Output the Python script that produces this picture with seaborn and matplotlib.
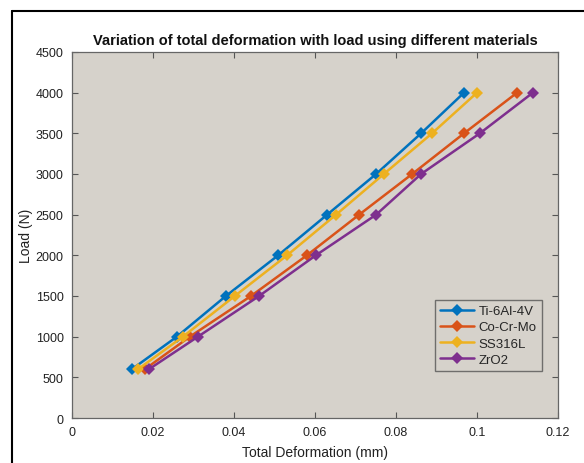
import pandas as pd
import matplotlib
matplotlib.use("Agg")
import matplotlib.pyplot as plt
from matplotlib.lines import Line2D
import seaborn as sns

# datos
cargas = [600, 1000, 1500, 2000, 2500, 3000, 3500, 4000]
materiales = ["Ti-6Al-4V", "Co-Cr-Mo", "SS316L", "ZrO2"]
def_ti = [0.0148, 0.0259, 0.0380, 0.0509, 0.0630, 0.0751, 0.0862, 0.0968]
def_cocr = [0.0180, 0.0291, 0.0442, 0.0580, 0.0709, 0.0840, 0.0968, 0.1099]
def_ss = [0.0163, 0.0274, 0.0402, 0.0531, 0.0652, 0.0770, 0.0889, 0.1000]
def_zr = [0.0190, 0.0311, 0.0462, 0.0602, 0.0751, 0.0862, 0.1007, 0.1138]
colores = ["#0072BD", "#D95319", "#EDB120", "#7E2F8E"]

filas = []
for mat, defs in zip(materiales, [def_ti, def_cocr, def_ss, def_zr]):
    for c, d in zip(cargas, defs):
        filas.append({"Material": mat, "Deformacion": d, "Carga": c})
df = pd.DataFrame(filas)

sns.set_style("ticks")
plt.rcParams["font.family"] = ["Liberation Sans", "DejaVu Sans"]

fig = plt.figure(figsize=(5.84, 4.64), dpi=100)
ax = fig.add_axes([72 / 584, 1 - 419 / 464, (558 - 72) / 584, (419 - 53) / 464])
ax.set_facecolor("#d6d2cb")

sns.lineplot(data=df, x="Deformacion", y="Carga", hue="Material", hue_order=materiales,
             palette=colores, marker="D", markersize=6.5, markeredgewidth=0,
             linewidth=1.8, sort=False, ax=ax)

ax.set_xlim(0, 0.12)
ax.set_ylim(0, 4500)
ax.set_xticks([0, 0.02, 0.04, 0.06, 0.08, 0.1, 0.12])
ax.set_xticklabels(["0", "0.02", "0.04", "0.06", "0.08", "0.1", "0.12"])
ax.set_yticks(range(0, 4501, 500))
ax.tick_params(direction="in", length=4, width=0.8, color="#555555",
               labelsize=9, labelcolor="#222222", top=True, right=True, pad=6)
for s in ax.spines.values():
    s.set_color("#666666")
    s.set_linewidth(0.9)

ax.set_title("Variation of total deformation with load using different materials",
             fontsize=10.5, fontweight="bold", color="#111111", pad=6)
ax.set_xlabel("Total Deformation (mm)", fontsize=10, color="#222222", labelpad=5)
ax.set_ylabel("Load (N)", fontsize=10, color="#222222", labelpad=2)

leg = ax.legend(loc="lower right", bbox_to_anchor=(0.98, 0.11), fontsize=9.5,
                frameon=True, fancybox=False, handlelength=2.6, handletextpad=0.3,
                borderpad=0.4, labelspacing=0.3)
leg.get_frame().set_facecolor("#d6d2cb")
leg.get_frame().set_edgecolor("#555555")
leg.get_frame().set_linewidth(1.0)

# marco negro de la captura
fig.add_artist(Line2D([12 / 584, 1], [1 - 12 / 464, 1 - 12 / 464], color="black", lw=1.5))
fig.add_artist(Line2D([12 / 584, 12 / 584], [0, 1 - 12 / 464], color="black", lw=1.5))

fig.savefig("out.png", dpi=100, facecolor="white")
